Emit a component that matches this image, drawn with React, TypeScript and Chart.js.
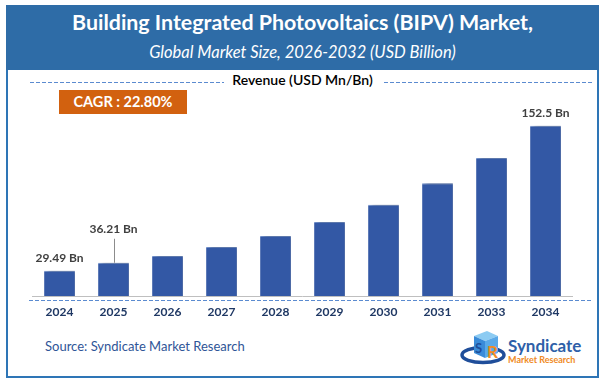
import React, { useEffect, useRef } from "react";
import { Chart, registerables } from "chart.js";

Chart.register(...registerables);

const categories = ["2024", "2025", "2026", "2027", "2028", "2029", "2030", "2031", "2033", "2034"];
const revenue = [29.49, 36.21, 42.0, 49.7, 59.0, 70.9, 85.4, 103.8, 125.1, 152.5];
const valueLabels = ["29.49 Bn", "36.21 Bn", "", "", "", "", "", "", "", "152.5 Bn"];
const leaderIndex = 1;

const FONT = "Lato, 'Open Sans', sans-serif";
const BAR = "#3358A5";

const decorPlugin = {
  id: "decor",
  beforeDraw(chart: any) {
    const ctx = chart.ctx;
    ctx.save();
    ctx.strokeStyle = "#5B8BD0";
    ctx.lineWidth = 1;
    ctx.setLineDash([4, 2]);
    const seg = (x1: number, x2: number, y: number) => {
      ctx.beginPath();
      ctx.moveTo(x1, y);
      ctx.lineTo(x2, y);
      ctx.stroke();
    };
    seg(30, 224, 82.5);
    seg(384, 593, 82.5);
    seg(29, 593, 300.5);
    ctx.restore();
  },
  beforeDatasetsDraw(chart: any) {
    const ctx = chart.ctx;
    ctx.save();
    ctx.shadowColor = "rgba(0,0,0,0.38)";
    ctx.shadowBlur = 4;
    ctx.shadowOffsetX = 4;
    ctx.shadowOffsetY = 0;
  },
  afterDatasetsDraw(chart: any) {
    const ctx = chart.ctx;
    ctx.restore();
    const meta = chart.getDatasetMeta(0);
    ctx.save();
    ctx.font = `bold 12px ${FONT}`;
    ctx.fillStyle = "#404040";
    ctx.textAlign = "center";
    ctx.textBaseline = "middle";
    meta.data.forEach((bar: any, i: number) => {
      const txt = valueLabels[i];
      if (!txt) return;
      if (i === leaderIndex) {
        ctx.strokeStyle = "#8c8c8c";
        ctx.lineWidth = 1;
        ctx.beginPath();
        ctx.moveTo(Math.round(bar.x) + 0.5, bar.y - 24);
        ctx.lineTo(Math.round(bar.x) + 0.5, bar.y);
        ctx.stroke();
        ctx.fillText(txt, bar.x, bar.y - 34);
      } else {
        ctx.fillText(txt, bar.x, bar.y - 13);
      }
    });
    ctx.restore();
  },
};

function BarChart() {
  const ref = useRef<HTMLCanvasElement>(null);
  useEffect(() => {
    if (!ref.current) return;
    const chart = new Chart(ref.current, {
      type: "bar",
      data: {
        labels: categories,
        datasets: [
          {
            data: revenue,
            backgroundColor: BAR,
            borderColor: "#6F8FCB",
            borderWidth: { top: 1, left: 0, right: 0, bottom: 0 },
            barPercentage: 0.57,
            categoryPercentage: 1,
          },
        ],
      },
      options: {
        animation: false,
        responsive: false,
        devicePixelRatio: 1,
        layout: { padding: { left: 32.5, right: 32.5, top: 117, bottom: 62 } },
        plugins: { legend: { display: false }, tooltip: { enabled: false }, title: { display: false } },
        scales: {
          x: {
            grid: { display: false, drawTicks: false },
            border: { display: true, color: "#BFBFBF", width: 1 },
            ticks: { color: "#1F3864", font: { family: FONT, size: 12, weight: "bold" }, padding: 9 },
            afterFit: (s: any) => {
              s.height = 25;
            },
          },
          y: {
            display: false,
            min: 8,
            max: 160,
          },
        },
      },
      plugins: [decorPlugin],
    } as any);
    return () => chart.destroy();
  }, []);
  return (
    <canvas
      ref={ref}
      width={605}
      height={383}
      style={{ position: "absolute", left: 0, top: 0, width: 605, height: 383 }}
    />
  );
}

function Logo() {
  return (
    <div style={{ position: "absolute", left: 460, top: 328, width: 120, height: 40 }}>
      <svg width="48" height="38" viewBox="0 0 48 38" style={{ position: "absolute", left: 0, top: 1 }}>
        <ellipse cx="23" cy="26" rx="21" ry="7.5" fill="none" stroke="#1F4E9A" strokeWidth="3.5" />
        <polygon points="14,7 27,2 38,7 25,12" fill="#8CCBF2" />
        <polygon points="14,7 25,12 25,29 14,24" fill="#3A8BD8" />
        <polygon points="25,12 38,7 38,24 25,29" fill="#5AA9E8" />
        <text x="15" y="24" fontSize="13" fontWeight="bold" fill="#1F4E9A" fontFamily={FONT}>S</text>
        <text x="27" y="29" fontSize="17" fontWeight="bold" fill="#F08A24" fontFamily={FONT}>R</text>
      </svg>
      <div style={{ position: "absolute", left: 48, top: 9, fontFamily: FONT, fontWeight: 700, fontSize: 17, color: "#2E5FA8", lineHeight: "18px" }}>
        Syndicate
      </div>
      <div style={{ position: "absolute", left: 48, top: 26, fontFamily: FONT, fontWeight: 700, fontSize: 9, color: "#F08A24", lineHeight: "12px", whiteSpace: "nowrap" }}>
        Market Research
      </div>
    </div>
  );
}

export default function App() {
  return (
    <div style={{ position: "absolute", left: 0, top: 0, width: 605, height: 383, background: "#fff", fontFamily: FONT, overflow: "hidden" }}>
      <div style={{ position: "absolute", left: 6, top: 5, width: 593, height: 373, border: "2px solid #2E75B6", boxSizing: "border-box" }} />
      <div style={{ position: "absolute", left: 6, top: 5, width: 593, height: 65, background: "#2E6CA7" }} />
      <div style={{ position: "absolute", left: 0, top: 8, width: 605, textAlign: "center", color: "#fff", fontWeight: 700, fontSize: 21.4, lineHeight: "28px" }}>
        Building Integrated Photovoltaics (BIPV) Market,
      </div>
      <div style={{ position: "absolute", left: 0, top: 41, width: 605, textAlign: "center", color: "#fff", fontStyle: "italic", fontSize: 16.5, lineHeight: "22px" }}>
        Global Market Size, 2026-2032 (USD Billion)
      </div>
      <div style={{ position: "absolute", left: 0, top: 71, width: 605, textAlign: "center", color: "#000", fontWeight: 600, fontSize: 14, lineHeight: "18px" }}>
        Revenue (USD Mn/Bn)
      </div>
      <div style={{ position: "absolute", left: 59, top: 90, width: 128, height: 24, background: "#D2610F", color: "#fff", fontWeight: 700, fontSize: 14.5, lineHeight: "24px", textAlign: "center" }}>
        CAGR : 22.80%
      </div>
      <div style={{ position: "absolute", left: 45, top: 337, color: "#2F5597", fontSize: 13, lineHeight: "18px" }}>
        Source: Syndicate Market Research
      </div>
      <Logo />
      <BarChart />
    </div>
  );
}
